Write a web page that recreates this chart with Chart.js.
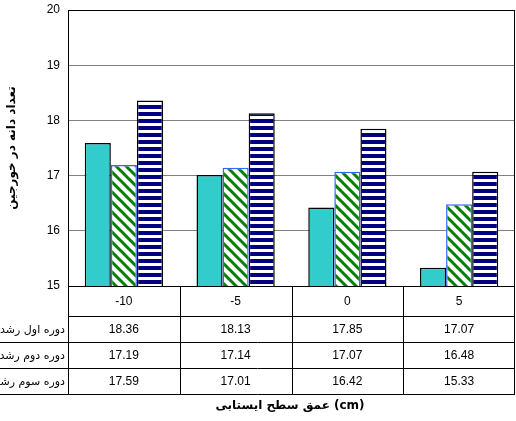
<!DOCTYPE html>
<html>
<head>
<meta charset="utf-8">
<script src="https://cdn.jsdelivr.net/npm/chart.js@4.4.0/dist/chart.umd.min.js"></script>
<style>
  html, body { margin: 0; padding: 0; background: #fff; }
  #wrap { width: 516px; height: 421px; }
</style>
</head>
<body>
<div id="wrap"><canvas id="c" width="516" height="421"></canvas></div>
<script>
const categories = ['-10', '-5', '0', '5'];
const seriesNames = ['دوره اول رشد', 'دوره دوم رشد', 'دوره سوم رشد'];
const firstPeriod = [18.36, 18.13, 17.85, 17.07];
const secondPeriod = [17.19, 17.14, 17.07, 16.48];
const thirdPeriod = [17.59, 17.01, 16.42, 15.33];
const yTicks = [15, 16, 17, 18, 19, 20];

// pattern helpers
function diagPattern() {
    const p = document.createElement('canvas');
    p.width = 10; p.height = 10;
    const g = p.getContext('2d');
    g.fillStyle = '#fff';
    g.fillRect(0, 0, 10, 10);
    g.strokeStyle = '#008000';
    g.lineWidth = 3;
    g.beginPath();
    g.moveTo(-5, -5); g.lineTo(15, 15);
    g.moveTo(-5, 5); g.lineTo(5, 15);
    g.moveTo(5, -5); g.lineTo(15, 5);
    g.stroke();
    return g.createPattern(p, 'repeat');
}

function stripePattern() {
    const p = document.createElement('canvas');
    p.width = 4; p.height = 7;
    const g = p.getContext('2d');
    g.fillStyle = '#fff';
    g.fillRect(0, 0, 4, 7);
    g.fillStyle = '#000080';
    g.fillRect(0, 0, 4, 4);
    return g.createPattern(p, 'repeat');
}

const tablePlugin = {
    id: 'tablePlugin',
    afterDraw(chart) {
        const ctx = chart.ctx;
        const area = chart.chartArea;
        const x = chart.scales.x;
        const rowH = [30, 26, 26, 26];
        const rows = [firstPeriod, secondPeriod, thirdPeriod];
        const step = (area.right - area.left) / categories.length;

        ctx.save();
        // plot border
        ctx.strokeStyle = '#000';
        ctx.lineWidth = 1;
        ctx.strokeRect(area.left + 0.5, area.top + 0.5, area.right - area.left - 1, area.bottom - area.top);

        // table lines
        const yTop = area.bottom;
        const yEnd = yTop + rowH.reduce((a, b) => a + b, 0);
        ctx.beginPath();
        let yy = yTop;
        rowH.forEach((h, i) => {
            yy += h;
            const xs = i === 0 ? area.left : 0;
            ctx.moveTo(xs, yy + 0.5);
            ctx.lineTo(area.right, yy + 0.5);
        });
        for (let i = 0; i <= categories.length; i++) {
            const xp = Math.round(area.left + i * step) - (i === categories.length ? 1 : 0) + 0.5;
            ctx.moveTo(xp, yTop);
            ctx.lineTo(xp, yEnd);
        }
        ctx.stroke();

        // header row
        ctx.fillStyle = '#000';
        ctx.font = '12px "Liberation Sans", Arial';
        ctx.textAlign = 'center';
        ctx.textBaseline = 'middle';
        categories.forEach((c, i) => {
            ctx.fillText(c, x.getPixelForValue(i), yTop + rowH[0] / 2 + 1);
        });

        // data rows
        yy = yTop + rowH[0];
        rows.forEach((r, ri) => {
            const cy = yy + rowH[ri + 1] / 2 + 1;
            ctx.textAlign = 'center';
            r.forEach((v, i) => {
                ctx.fillText(v.toFixed(2), x.getPixelForValue(i), cy);
            });
            ctx.textAlign = 'right';
            ctx.font = '11px "DejaVu Sans", Arial';
            ctx.fillText(seriesNames[ri], area.left - 3, cy);
            ctx.font = '12px "Liberation Sans", Arial';
            yy += rowH[ri + 1];
        });

        // axis titles
        ctx.font = 'bold 12px "DejaVu Sans", Arial';
        ctx.textAlign = 'center';
        ctx.fillText('عمق سطح ایستابی (cm)', 290, 406);
        ctx.translate(12, 148);
        ctx.rotate(-Math.PI / 2);
        ctx.fillText('تعداد دانه در خورجین', 0, 0);
        ctx.restore();
    }
};

new Chart(document.getElementById('c'), {
    type: 'bar',
    data: {
        labels: categories,
        datasets: [
            {
                label: seriesNames[2],
                data: thirdPeriod,
                backgroundColor: '#33CCCC',
                borderColor: '#000',
                borderWidth: 1.5
            },
            {
                label: seriesNames[1],
                data: secondPeriod,
                backgroundColor: diagPattern(),
                borderColor: '#3366FF',
                borderWidth: 1.5
            },
            {
                label: seriesNames[0],
                data: firstPeriod,
                backgroundColor: stripePattern(),
                borderColor: '#000',
                borderWidth: 1.5
            }
        ]
    },
    options: {
        responsive: false,
        animation: false,
        layout: { padding: { top: 10, bottom: 127, left: 0, right: 1 } },
        plugins: {
            legend: { display: false },
            tooltip: { enabled: false }
        },
        datasets: {
            bar: { categoryPercentage: 0.7, barPercentage: 1 }
        },
        scales: {
            x: {
                ticks: { display: false },
                grid: { display: false },
                border: { display: false }
            },
            y: {
                min: 15,
                max: 20,
                afterFit: s => { s.width = 68; s.paddingTop = 0; s.paddingBottom = 0; },
                afterBuildTicks: s => { s.ticks = yTicks.map(v => ({ value: v })); },
                ticks: {
                    color: '#000',
                    padding: 8,
                    font: { family: '"Liberation Sans", Arial', size: 12 }
                },
                grid: { color: '#808080', drawTicks: false },
                border: { display: false }
            }
        }
    },
    plugins: [tablePlugin]
});
</script>
</body>
</html>
